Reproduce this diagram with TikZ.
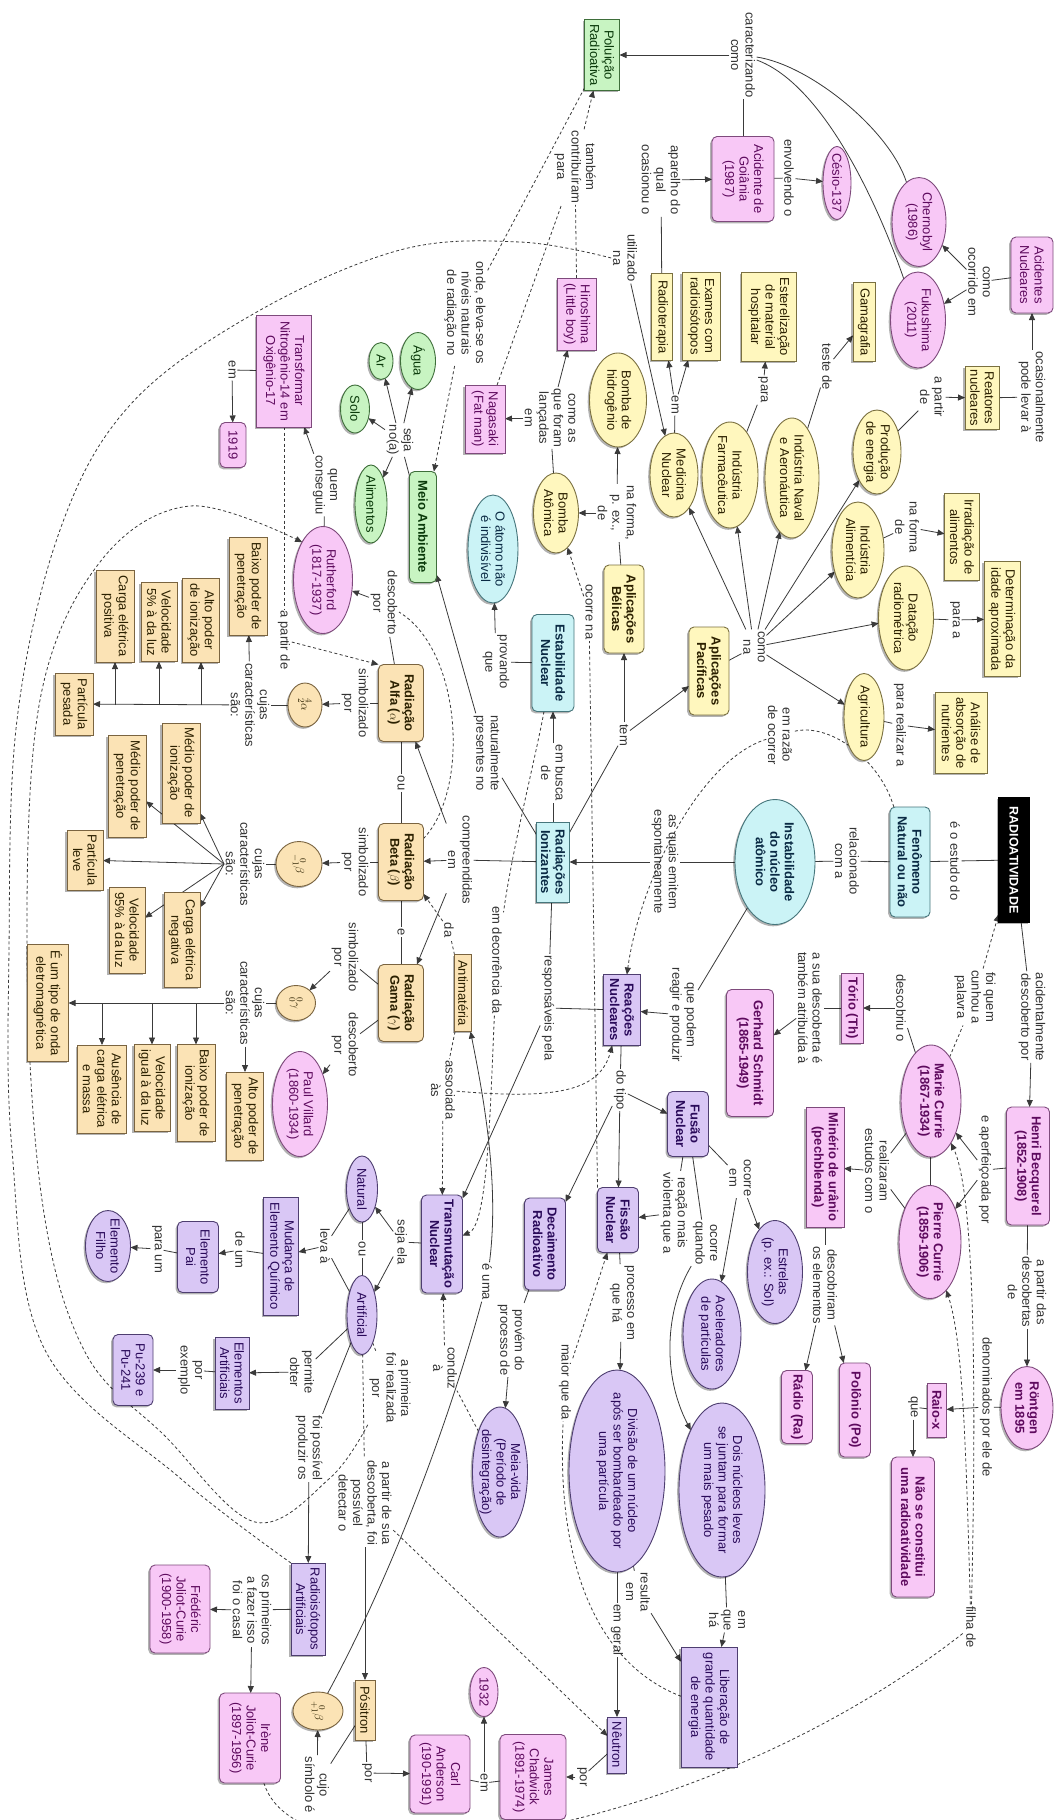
\documentclass[tikz,border=0pt]{standalone}
\usepackage{fontspec}
\setmainfont{Liberation Sans}
\usetikzlibrary{shapes.geometric,arrows.meta,backgrounds,shadows}

\definecolor{pinkF}{HTML}{F8C8F6}\definecolor{pinkD}{HTML}{7E4A7C}\definecolor{pinkT}{HTML}{5E0A5E}
\definecolor{yelF}{HTML}{FFF7BE}\definecolor{yelD}{HTML}{7A7040}
\definecolor{tanF}{HTML}{FBE3B5}\definecolor{tanD}{HTML}{7A6440}\definecolor{darkT}{HTML}{2B2000}
\definecolor{grnF}{HTML}{C8F4C2}\definecolor{grnD}{HTML}{3E6E3A}\definecolor{grnT}{HTML}{0A3A0A}
\definecolor{cyaF}{HTML}{CBF3F6}\definecolor{cyaD}{HTML}{46767C}\definecolor{cyaT}{HTML}{0A2A44}
\definecolor{purF}{HTML}{D9C7F5}\definecolor{purD}{HTML}{4E3E70}\definecolor{purT}{HTML}{2A0A5A}
\definecolor{labT}{HTML}{333333}\definecolor{lineC}{HTML}{3A3A3A}

\newcommand\nfs{\fontsize{13}{14.5}\selectfont}
\newcommand\bnf{\fontsize{13}{14.5}\selectfont\bfseries}

\tikzset{
  shp/.style={inner sep=0pt,outer sep=0pt,line width=0.9pt,
    drop shadow={shadow xshift=-1.8pt,shadow yshift=-1.8pt,fill=black,opacity=0.3}},
  pR/.style={shp,rectangle,rounded corners=5pt,fill=pinkF,draw=pinkD},
  pS/.style={shp,rectangle,fill=pinkF,draw=pinkD},
  pE/.style={shp,ellipse,fill=pinkF,draw=pinkD},
  yR/.style={shp,rectangle,rounded corners=5pt,fill=yelF,draw=yelD},
  yS/.style={shp,rectangle,fill=yelF,draw=yelD},
  yE/.style={shp,ellipse,fill=yelF,draw=yelD},
  tR/.style={shp,rectangle,rounded corners=5pt,fill=tanF,draw=tanD},
  tS/.style={shp,rectangle,fill=tanF,draw=tanD},
  tE/.style={shp,ellipse,fill=tanF,draw=tanD},
  gR/.style={shp,rectangle,rounded corners=5pt,fill=grnF,draw=grnD},
  gS/.style={shp,rectangle,fill=grnF,draw=grnD},
  gE/.style={shp,ellipse,fill=grnF,draw=grnD},
  cR/.style={shp,rectangle,rounded corners=5pt,fill=cyaF,draw=cyaD},
  cS/.style={shp,rectangle,fill=cyaF,draw=cyaD},
  cE/.style={shp,ellipse,fill=cyaF,draw=cyaD},
  uR/.style={shp,rectangle,rounded corners=5pt,fill=purF,draw=purD},
  uS/.style={shp,rectangle,fill=purF,draw=purD},
  uE/.style={shp,ellipse,fill=purF,draw=purD},
  kS/.style={shp,rectangle,fill=black,draw=black},
  ntxt/.style={rotate=-90,align=center,font=\nfs,inner sep=0pt},
  lab/.style={rotate=-90,align=center,font=\nfs,text=labT,inner sep=1.5pt},
  cn/.style={draw=lineC,line width=0.8pt},
  ca/.style={cn,-{Triangle[length=7pt,width=6pt]}},
  cd/.style={cn,dash pattern=on 3pt off 2.5pt},
  cda/.style={cd,-{Triangle[length=7pt,width=6pt]}},
}

% #1 text options, #2 shape style, #3 text colour, #4 name, #5 centre,
% #6 vertical extent, #7 horizontal extent, #8 text (set top-to-bottom)
\newcommand\cmapnode[8][]{%
  \node[#2,minimum width=#7,minimum height=#6] (#4) at (#5) {};
  \node[ntxt,text=#3,#1] at (#4) {#8};}

\begin{document}
\begin{tikzpicture}[x=1pt,y=-1pt]
\useasboundingbox (0,0) rectangle (1057,1820);

% ---------- concepts ----------
\cmapnode{gS}{grnT}{polu}{602,55}{71}{35}{Poluição\\Radioativa}
\cmapnode{pR}{pinkT}{goiania}{743,179}{85}{62}{Acidente de\\Goiânia\\(1987)}
\cmapnode{pE}{pinkT}{cesio}{837,183}{73}{28}{Césio-137}
\cmapnode{pE}{pinkT}{chern}{919,222}{89}{54}{Chernobyl\\(1986)}
\cmapnode{pE}{pinkT}{fuku}{918,320}{96}{55}{Fukushima\\(2011)}
\cmapnode{pR}{pinkT}{acid}{1032,275}{76}{42}{Acidentes\\Nucleares}
\cmapnode{yS}{darkT}{reat}{982,398}{63}{34}{Reatores\\nucleares}
\cmapnode{yE}{darkT}{prod}{877,452}{84}{48}{Produção\\de energia}
\cmapnode{yS}{darkT}{gamagraf}{864,322}{79}{22}{Gamagrafia}
\cmapnode{yE}{darkT}{naval}{792,478}{120}{54}{Indústria Naval\\e Aeronáutica}
\cmapnode{yS}{darkT}{ester}{769,317}{89}{55}{Esterelização\\de material\\hospitalar}
\cmapnode{yE}{darkT}{farm}{730,475}{106}{56}{Indústria\\Farmacêutica}
\cmapnode{yS}{darkT}{exames}{701,316}{88}{38}{Exames com\\radioisótopos}
\cmapnode{yS}{darkT}{radiot}{662,317}{87}{21}{Radioterapia}
\cmapnode{yE}{darkT}{medic}{674,475}{84}{48}{Medicina\\Nuclear}
\cmapnode{pS}{pinkT}{hiro}{577,314}{72}{39}{Hiroshima\\(Little boy)}
\cmapnode{pS}{pinkT}{naga}{485,419}{68}{40}{Nagasaki\\(Fat man)}
\cmapnode{yE}{darkT}{hidro}{618,400}{94}{57}{Bomba de\\hidrogênio}
\cmapnode{yE}{darkT}{bomba}{556,513}{80}{45}{Bomba\\Atômica}
\cmapnode[font=\bnf]{yR}{darkT}{belicas}{624,609}{88}{40}{Aplicações\\Bélicas}
\cmapnode[font=\bnf]{yR}{darkT}{pacif}{709,671}{88}{40}{Aplicações\\Pacíficas}
\cmapnode{yE}{darkT}{alim}{858,550}{96}{52}{Indústria\\Alimentícia}
\cmapnode{yS}{darkT}{irrad}{962,537}{87}{35}{Irradiação de\\alimentos}
\cmapnode{yE}{darkT}{datac}{906,618}{104}{55}{Datação\\radiométrica}
\cmapnode{yS}{darkT}{determ}{1002,619}{115}{36}{Determinação da\\idade aproximada}
\cmapnode{yE}{darkT}{agri}{864,717}{87}{40}{Agricultura}
\cmapnode{yS}{darkT}{analise}{961,733}{81}{52}{Análise de\\absorção de\\nutrientes}
\cmapnode[font=\fontsize{12.5}{14}\selectfont\bfseries]{kS}{white}{radio}{1014,860}{125}{31}{RADIOATIVIDADE}
\cmapnode[font=\bnf]{cR}{cyaT}{fenom}{910,862}{110}{40}{Fenômeno\\Natural ou não}
\cmapnode[font=\bnf]{cE}{cyaT}{instab}{775,862}{125}{80}{Instabilidade\\do núcleo\\atômico}
\cmapnode[font=\bnf]{cS}{cyaT}{ioniz}{553,862}{80}{33}{Radiações\\Ionizantes}
\cmapnode[font=\bnf]{cR}{cyaT}{estab}{553,663}{97}{42}{Estabilidade\\Nuclear}
\cmapnode{cE}{cyaT}{atomo}{493,549}{108}{50}{O átomo não\\é indivisível}
\cmapnode[font=\bnf]{gR}{grnT}{meio}{423,527}{111}{27}{Meio Ambiente}
\cmapnode{gE}{grnT}{agua}{418,361}{57}{35}{Água}
\cmapnode{gE}{grnT}{ar}{381,361}{37}{24}{Ar}
\cmapnode{gE}{grnT}{solo}{355,409}{48}{29}{Solo}
\cmapnode{gE}{grnT}{alimentos}{371,504}{78}{32}{Alimentos}
\cmapnode{pS}{pinkT}{transf}{284,371}{112}{55}{Transformar\\Nitrogênio-14 em\\Oxigênio-17}
\cmapnode{pR}{pinkT}{y1919}{233,445}{45}{26}{1919}
\cmapnode{pE}{pinkT}{ruth}{323,580}{107}{59}{Rutherford\\(1817-1937)}
\cmapnode[font=\bnf]{tR}{darkT}{alfa}{401,703}{77}{45}{Radiação\\Alfa ($\alpha$)}
\cmapnode{tE}{darkT}{alfasym}{305,705}{44}{34}{$^{4}_{2}\alpha$}
\cmapnode{tS}{darkT}{baixopen}{248,586}{98}{38}{Baixo poder de\\penetração}
\cmapnode{tS}{darkT}{altoion}{201,620}{84}{37}{Alto poder\\de ionização}
\cmapnode{tS}{darkT}{vel5}{159,622}{79}{36}{Velocidade\\5\% à da luz}
\cmapnode{tS}{darkT}{cargapos}{115,616}{92}{38}{Carga elétrica\\positiva}
\cmapnode{tS}{darkT}{pesada}{74,704}{62}{38}{Partícula\\pesada}
\cmapnode[font=\bnf]{tR}{darkT}{beta}{401,862}{77}{45}{Radiação\\Beta ($\beta$)}
\cmapnode{tE}{darkT}{betasym}{299,864}{45}{46}{$^{\;\,0}_{-1}\beta$}
\cmapnode{tS}{darkT}{medioion}{181,773}{100}{38}{Médio poder de\\ionização}
\cmapnode{tS}{darkT}{mediopen}{127,786}{102}{38}{Médio poder de\\penetração}
\cmapnode{tS}{darkT}{leve}{85,860}{60}{36}{Partícula\\leve}
\cmapnode{tS}{darkT}{vel95}{127,930}{86}{36}{Velocidade\\95\% à da luz}
\cmapnode{tS}{darkT}{cargneg}{182,940}{95}{36}{Carga elétrica\\negativa}
\cmapnode[font=\bnf]{tR}{darkT}{gama}{401,1003}{77}{45}{Radiação\\Gama ($\gamma$)}
\cmapnode{tE}{darkT}{gamasym}{296,1003}{35}{39}{$^{0}_{0}\gamma$}
\cmapnode{pE}{pinkT}{villard}{300,1104}{105}{55}{Paul Villard\\(1860-1934)}
\cmapnode{tS}{darkT}{altopen}{245,1116}{88}{37}{Alto poder de\\penetração}
\cmapnode{tS}{darkT}{baixoion}{196,1093}{97}{38}{Baixo poder de\\ionização}
\cmapnode{tS}{darkT}{velluz}{152,1088}{87}{36}{Velocidade\\igual à da luz}
\cmapnode{tS}{darkT}{ausencia}{102,1089}{88}{49}{Ausência de\\carga elétrica\\e massa}
\cmapnode{tS}{darkT}{onda}{48,1003}{117}{41}{É um tipo de onda\\eletromagnética}
\cmapnode{tS}{darkT}{antimat}{463,993}{77}{17}{Antimatéria}
\cmapnode[font=\bnf]{uS}{purT}{reac}{622,1010}{71}{37}{Reações\\Nucleares}
\cmapnode[font=\bnf]{uR}{purT}{fusao}{688,1124}{65}{41}{Fusão\\Nuclear}
\cmapnode[font=\bnf]{uR}{purT}{fissao}{618,1220}{65}{41}{Fissão\\Nuclear}
\cmapnode[font=\bnf]{uR}{purT}{decai}{545,1244}{92}{41}{Decaimento\\Radioativo}
\cmapnode{uE}{purT}{estrelas}{775,1272}{103}{55}{Estrelas\\(p. ex.: Sol)}
\cmapnode{uE}{purT}{acel}{712,1334}{110}{58}{Aceleradores\\de partículas}
\cmapnode{uE}{purT}{dois}{722,1490}{174}{86}{Dois núcleos leves\\se juntam para formar\\um mais pesado}
\cmapnode{uE}{purT}{divisao}{617,1471}{202}{96}{Divisão de um núcleo\\após ser bombardeado por\\uma partícula}
\cmapnode{uS}{purT}{liber}{709,1707}{120}{56}{Liberação de\\grande quantidade\\de energia}
\cmapnode{uS}{purT}{neutron}{617,1745}{56}{19}{Nêutron}
\cmapnode{pR}{pinkT}{chadwick}{533,1777}{85}{66}{James\\Chadwick\\(1891-1974)}
\cmapnode{pE}{pinkT}{y1932}{484,1692}{49}{28}{1932}
\cmapnode{pR}{pinkT}{carl}{440,1774}{78}{60}{Carl\\Anderson\\(190-1991)}
\cmapnode{tS}{darkT}{positron}{365,1710}{60}{20}{Pósitron}
\cmapnode{tE}{darkT}{betaplus}{318,1711}{38}{50}{$^{\;\,0}_{+1}\beta$}
\cmapnode{uS}{purT}{radart}{308,1609}{92}{34}{Radioisótopos\\Artificiais}
\cmapnode{pR}{pinkT}{fred}{180,1609}{88}{60}{Frédéric\\Joliot-Curie\\(1900-1958)}
\cmapnode{pR}{pinkT}{irene}{250,1738}{90}{61}{Irène\\Joliot-Curie\\(1897-1956)}
\cmapnode{uS}{purT}{elemart}{232,1373}{72}{34}{Elementos\\Artificiais}
\cmapnode{uR}{purT}{pu}{133,1370}{71}{40}{Pu-239 e\\Pu-241}
\cmapnode{uE}{purT}{artif}{362,1315}{79}{30}{Artificial}
\cmapnode{uE}{purT}{natur}{362,1189}{66}{31}{Natural}
\cmapnode{uS}{purT}{mudanca}{281,1256}{118}{35}{Mudança de\\Elemento Químico}
\cmapnode{uR}{purT}{pai}{198,1257}{71}{41}{Elemento\\Pai}
\cmapnode{uE}{purT}{filho}{108,1246}{71}{45}{Elemento\\Filho}
\cmapnode[font=\bnf]{uR}{purT}{transm}{442,1244}{98}{41}{Transmutação\\Nuclear}
\cmapnode{uE}{purT}{meiavida}{500,1472}{130}{55}{Meia-vida\\(Período de\\desintegração)}
\cmapnode[font=\bnf]{pR}{pinkT}{henri}{1028,1166}{118}{43}{Henri Becquerel\\(1852-1908)}
\cmapnode[font=\bnf]{pE}{pinkT}{rontgen}{1027,1408}{83}{52}{Röntgen\\em 1895}
\cmapnode[font=\bnf]{pS}{pinkT}{raiox}{937,1410}{54}{19}{Raio-x}
\cmapnode[font=\bnf]{pR}{pinkT}{naose}{913,1527}{140}{43}{Não se constitui\\uma radioatividade}
\cmapnode[font=\bnf]{pE}{pinkT}{marie}{931,1101}{112}{60}{Marie Currie\\(1867-1934)}
\cmapnode[font=\bnf]{pE}{pinkT}{pierre}{930,1242}{113}{62}{Pierre Currie\\(1859-1906)}
\cmapnode[font=\bnf]{pS}{pinkT}{torio}{852,1008}{70}{22}{Tório (Th)}
\cmapnode[font=\bnf]{pR}{pinkT}{gerhard}{750,1053}{127}{47}{Gerhard Schmidt\\(1865-1949)}
\cmapnode[font=\bnf]{pS}{pinkT}{minerio}{825,1167}{120}{38}{Minério de urânio\\(pechblenda)}
\cmapnode[font=\bnf]{pR}{pinkT}{polonio}{855,1410}{94}{31}{Polônio (Po)}
\cmapnode[font=\bnf]{pR}{pinkT}{radium}{797,1407}{73}{31}{Rádio (Ra)}

% ---------- linking phrases ----------
\node[lab] (lcarac) at (743,55) {caracterizando\\como};
\node[lab] (lenvol) at (789,178) {envolvendo o};
\node[lab] (lcomo) at (979,282) {como\\ocorrido em};
\node[lab] (locas) at (1032,397) {ocasionalmente\\pode levar à};
\node[lab] (lapartir1) at (932,397) {a partir\\de};
\node[lab] (lteste) at (827,367) {teste de};
\node[lab] (lpara) at (763,390) {para};
\node[lab] (lem1) at (675,405) {em};
\node[lab] (laparelho) at (661,180) {aparelho do\\qual\\ocasionou o};
\node[lab] (lutil) at (625,258) {utilizado\\na};
\node[lab] (ltambem) at (575,167) {também\\contribuíram\\para};
\node[lab] (londe) at (465,313) {onde, eleva-se os\\níveis naturais\\de radiação no};
\node[lab] (lcomoas) at (550,418) {como as\\que foram\\lançadas\\em};
\node[lab] (lnaforma) at (617,513) {na forma,\\p. ex.,\\de};
\node[lab] (locorrena) at (589,612) {ocorre na};
\node[lab] (lcomona) at (754,647) {como\\na};
\node[lab] (lnaforma2) at (907,527) {na forma\\de};
\node[lab] (lparaa) at (955,620) {para a};
\node[lab] (lrealizar) at (900,725) {para realizar a};
\node[lab] (lrazao) at (780,735) {em razão\\de ocorrer};
\node[lab] (lestudo) at (955,861) {é o estudo do};
\node[lab] (lrelac) at (847,861) {relacionado\\com a};
\node[lab] (lemitem) at (665,862) {as quais emitem\\espontaneamente};
\node[lab] (ltem) at (624,735) {tem};
\node[lab] (lbusca) at (553,773) {em busca\\de};
\node[lab] (lprov) at (496,662) {provando\\que};
\node[lab] (lnatur) at (487,753) {naturalmente\\presentes no};
\node[lab] (lseja) at (400,440) {seja\\no(a)};
\node[lab] (lem2) at (232,370) {em};
\node[lab] (lquem) at (325,485) {quem\\conseguiu};
\node[lab] (ldesc) at (384,603) {descoberto\\por};
\node[lab] (lsimb1) at (355,703) {simbolizado\\por};
\node[lab] (lcar1) at (250,705) {cujas\\características\\são:};
\node[lab] (lpartir2) at (284,640) {a partir de};
\node[lab] (lou1) at (401,783) {ou};
\node[lab] (lcompr) at (460,860) {compreendidas\\em};
\node[lab] (lsimb2) at (355,862) {simbolizado\\por};
\node[lab] (lcar2) at (245,864) {cujas\\características\\são:};
\node[lab] (le) at (401,932) {e};
\node[lab] (lsimb3) at (345,957) {simbolizado\\por};
\node[lab] (ldesc3) at (345,1045) {descoberto\\por};
\node[lab] (lcar3) at (245,1003) {cujas\\características\\são:};
\node[lab] (lda) at (449,930) {da};
\node[lab] (ldecor) at (497,960) {em decorrência da};
\node[lab] (lresp) at (548,1008) {responsáveis pela};
\node[lab] (lpodem) at (683,1015) {que podem\\reagir e produzir};
\node[lab] (ldotipo) at (620,1090) {do tipo};
\node[lab] (lviol) at (674,1213) {reação mais\\violenta que a};
\node[lab] (locorreem) at (740,1178) {ocorre\\em};
\node[lab] (lquando) at (705,1243) {ocorre\\quando};
\node[lab] (lprocesso) at (622,1303) {processo em\\que há};
\node[lab] (lmaior) at (565,1382) {maior que da};
\node[lab] (lemque) at (727,1620) {em\\que\\há};
\node[lab] (lresulta) at (638,1592) {resulta\\em};
\node[lab] (lgeral) at (617,1630) {em geral};
\node[lab] (lpor1) at (582,1777) {por};
\node[lab] (lem3) at (484,1783) {em};
\node[lab] (lpor2) at (367,1773) {por};
\node[lab] (ldescob) at (365,1503) {a partir de sua\\descoberta, foi\\possível\\detectar o};
\node[lab] (lsimbolo) at (317,1785) {cujo\\símbolo é};
\node[lab] (lproduzir) at (309,1448) {foi possível\\produzir os};
\node[lab] (lcasal) at (252,1610) {os primeiros\\a fazer isso\\foi o casal};
\node[lab] (lobter) at (302,1372) {permite\\obter};
\node[lab] (lexemplo) at (190,1370) {por\\exemplo};
\node[lab] (lou2) at (362,1249) {ou};
\node[lab] (lsejaela) at (401,1242) {seja ela};
\node[lab] (lleva) at (325,1246) {leva à};
\node[lab] (ldeum) at (240,1250) {de um};
\node[lab] (lparaum) at (157,1249) {para um};
\node[lab] (lprovem) at (511,1340) {provém do\\processo de};
\node[lab] (leuma) at (487,1282) {é uma};
\node[lab] (lconduz) at (445,1368) {conduz\\à};
\node[lab] (lassoc) at (443,1090) {associada\\às};
\node[lab] (lprimeira) at (390,1388) {a primeira\\foi realizada\\por};
\node[lab] (lacid) at (1032,1017) {acidentalmente\\descoberto por};
\node[lab] (lpartirdas) at (1027,1292) {a partir das\\descobertas\\de};
\node[lab] (ldenom) at (986,1407) {denominados por ele de};
\node[lab] (lque) at (913,1407) {que};
\node[lab] (laperf) at (985,1170) {e aperfeiçoada por};
\node[lab] (lcunhou) at (975,997) {foi quem\\cunhou a\\palavra};
\node[lab] (ldescobriu) at (901,1008) {descobriu o};
\node[lab] (latrib) at (810,1008) {a sua descoberta é\\também atribuída à};
\node[lab] (lestudos) at (877,1171) {realizaram\\estudos com o};
\node[lab] (ldescobriram) at (825,1285) {descobriram\\os elementos};
\node[lab] (lfilha) at (971,1627) {filha de};

% ---------- connectors ----------
\begin{scope}[on background layer]
\fill[white] (0,0) rectangle (1057,1820);

% accidents and pollution
\draw[cn] (goiania) -- (lcarac);
\draw[cn] (chern) .. controls (890,130) and (810,65) .. (lcarac);
\draw[cn] (fuku) .. controls (880,210) and (825,85) .. (lcarac);
\draw[ca] (lcarac) -- (polu);
\draw[cn] (goiania) -- (lenvol); \draw[ca] (lenvol) -- (cesio);
\draw[cn] (acid) -- (lcomo); \draw[ca] (lcomo) -- (chern); \draw[ca] (lcomo) -- (fuku);
\draw[cn] (reat) -- (locas); \draw[ca] (locas) -- (acid);
\draw[cn] (prod) -- (lapartir1); \draw[ca] (lapartir1) -- (reat);
\draw[cn] (naval) -- (lteste); \draw[ca] (lteste) -- (gamagraf);
\draw[cn] (farm) -- (lpara); \draw[ca] (lpara) -- (ester);
\draw[cn] (medic) -- (lem1); \draw[ca] (lem1) -- (radiot); \draw[ca] (lem1) -- (exames);
\draw[cn] (radiot) -- (laparelho); \draw[ca] (laparelho) -- (goiania);
\draw[ca] (lutil) -- (medic);
\draw[cd] (hiro) -- (ltambem); \draw[cd] (naga) -- (ltambem); \draw[cda] (ltambem) -- (polu);
\draw[cd] (polu) -- (londe); \draw[cda] (londe) -- (meio);

% weapons and peaceful uses
\draw[cn] (bomba) -- (lcomoas); \draw[ca] (lcomoas) -- (hiro); \draw[ca] (lcomoas) -- (naga);
\draw[cn] (belicas) -- (lnaforma); \draw[ca] (lnaforma) -- (bomba); \draw[ca] (lnaforma) -- (hidro);
\draw[cn] (ioniz) -- (ltem); \draw[ca] (ltem) -- (belicas); \draw[ca] (ltem) -- (pacif);
\draw[cn] (pacif) -- (lcomona);
\foreach \t in {medic,farm,naval,prod,alim,datac,agri} \draw[ca] (lcomona) -- (\t);
\draw[cn] (alim) -- (lnaforma2); \draw[ca] (lnaforma2) -- (irrad);
\draw[cn] (datac) -- (lparaa); \draw[ca] (lparaa) -- (determ);
\draw[cn] (agri) -- (lrealizar); \draw[ca] (lrealizar) -- (analise);
\draw[cd] (fissao.north west) -- (locorrena); \draw[cda] (locorrena) -- (bomba);

% main axis
\draw[cn] (radio) -- (lestudo) -- (fenom);
\draw[cn] (fenom) -- (lrelac) -- (instab);
\draw[cn] (instab) -- (lemitem); \draw[ca] (lemitem) -- (ioniz);
\draw[cn] (ioniz) -- (lbusca); \draw[ca] (lbusca) -- (estab);
\draw[cn] (estab) -- (lprov); \draw[ca] (lprov) -- (atomo);
\draw[cn] (ioniz) -- (lnatur); \draw[ca] (lnatur) -- (meio);
\draw[cn] (meio) -- (lseja);
\foreach \t in {agua,ar,solo,alimentos} \draw[ca] (lseja) -- (\t);
\draw[cd] (fenom) .. controls (880,760) and (830,722) .. (lrazao);
\draw[cda] (lrazao) .. controls (700,760) and (640,880) .. (reac);

% radiations
\draw[cn] (ioniz) -- (lcompr);
\draw[ca] (lcompr) -- (alfa); \draw[ca] (lcompr) -- (beta); \draw[ca] (lcompr) -- (gama);
\draw[cn] (alfa) -- (lou1) -- (beta);
\draw[cn] (beta) -- (le) -- (gama);
\draw[cn] (alfa) -- (ldesc); \draw[ca] (ldesc) -- (ruth);
\draw[cd] (beta) .. controls (470,790) and (462,650) .. (ldesc);
\draw[cn] (ruth) -- (lquem); \draw[ca] (lquem) -- (transf);
\draw[cn] (transf) -- (lem2); \draw[ca] (lem2) -- (y1919);
\draw[cd] (transf) -- (lpartir2); \draw[cda] (lpartir2) -- (alfa.north west);

\draw[cn] (alfa) -- (lsimb1); \draw[ca] (lsimb1) -- (alfasym);
\draw[cn] (alfasym) -- (lcar1);
\draw[ca] (lcar1) -- (pesada);
\draw[ca] (lcar1) -- (baixopen);
\foreach \t in {altoion,vel5,cargapos} \draw[ca] (\t |- lcar1) -- (\t);

\draw[cn] (beta) -- (lsimb2); \draw[ca] (lsimb2) -- (betasym);
\draw[cn] (betasym) -- (lcar2);
\foreach \t in {medioion,mediopen,leve,vel95,cargneg} \draw[ca] (lcar2.south) -- (\t);

\draw[cn] (gama) -- (lsimb3); \draw[ca] (lsimb3) -- (gamasym);
\draw[cn] (gama) -- (ldesc3); \draw[ca] (ldesc3) -- (villard);
\draw[cn] (gamasym) -- (lcar3);
\draw[ca] (lcar3) -- (onda);
\draw[ca] (lcar3) -- (altopen);
\foreach \t in {baixoion,velluz,ausencia} \draw[ca] (\t |- lcar3) -- (\t);

% antimatter and transmutation
\draw[cd] (antimat) -- (lda); \draw[cda] (lda) -- (beta);
\draw[cd] (antimat) -- (lassoc); \draw[cda] (lassoc) -- (transm);
\draw[cda] (lassoc) .. controls (560,1100) and (600,1090) .. (reac);
\draw[cd] (estab) .. controls (535,760) and (512,850) .. (ldecor);
\draw[cda] (ldecor) .. controls (490,1110) and (488,1225) .. (transm);
\draw[cn] (betaplus) .. controls (400,1560) and (455,1400) .. (leuma);
\draw[ca] (leuma) .. controls (500,1180) and (482,1090) .. (antimat);

% nuclear reactions
\draw[cn] (instab) -- (lpodem); \draw[ca] (lpodem) -- (reac);
\draw[cn] (ioniz) -- (lresp); \draw[cn] (reac) -- (lresp); \draw[ca] (lresp) -- (transm);
\draw[cn] (reac) -- (ldotipo);
\draw[ca] (ldotipo) -- (fusao); \draw[ca] (ldotipo) -- (fissao); \draw[ca] (ldotipo) -- (decai);
\draw[cn] (fusao) -- (lviol); \draw[ca] (lviol) -- (fissao);
\draw[cn] (fusao) -- (locorreem); \draw[ca] (locorreem) -- (estrelas); \draw[ca] (locorreem) -- (acel);
\draw[cn] (fusao) -- (lquando);
\draw[ca] (lquando) .. controls (665,1310) and (662,1375) .. (dois);
\draw[cn] (fissao) -- (lprocesso); \draw[ca] (lprocesso) -- (divisao);
\draw[cn] (divisao) -- (lresulta); \draw[ca] (lresulta) -- (liber);
\draw[cn] (dois) -- (lemque); \draw[ca] (lemque) -- (liber);
\draw[cn] (divisao) -- (lgeral); \draw[ca] (lgeral) -- (neutron);
\draw[cd] (liber) .. controls (600,1665) and (556,1570) .. (lmaior);
\draw[cda] (lmaior) -- (fissao);
\draw[cn] (neutron) -- (lpor1); \draw[ca] (lpor1) -- (chadwick);
\draw[cn] (chadwick) -- (lem3); \draw[cn] (carl) -- (lem3); \draw[ca] (lem3) -- (y1932);
\draw[cn] (positron) -- (lpor2); \draw[ca] (lpor2) -- (carl);
\draw[cn] (positron) -- (lsimbolo); \draw[ca] (lsimbolo) -- (betaplus);
\draw[cn] (decai) -- (lprovem); \draw[ca] (lprovem) -- (meiavida);
\draw[cd] (meiavida) -- (lconduz); \draw[cda] (lconduz) -- (transm);

% kinds of transmutation
\draw[cn] (transm) -- (lsejaela); \draw[ca] (lsejaela) -- (natur); \draw[ca] (lsejaela) -- (artif);
\draw[cn] (natur) -- (lou2) -- (artif);
\draw[cn] (natur) -- (lleva); \draw[cn] (artif) -- (lleva); \draw[ca] (lleva) -- (mudanca);
\draw[cn] (mudanca) -- (ldeum); \draw[ca] (ldeum) -- (pai);
\draw[cn] (pai) -- (lparaum); \draw[ca] (lparaum) -- (filho);
\draw[cn] (artif) -- (lobter); \draw[ca] (lobter) -- (elemart);
\draw[cn] (elemart) -- (lexemplo); \draw[ca] (lexemplo) -- (pu);
\draw[cn] (artif) -- (lproduzir); \draw[ca] (lproduzir) -- (radart);
\draw[cn] (radart) -- (lcasal); \draw[ca] (lcasal) -- (fred); \draw[ca] (lcasal) -- (irene);
\draw[cd] (artif) -- (lprimeira);
\draw[cd] (artif) -- (ldescob); \draw[ca] (ldescob) -- (positron); \draw[cda] (ldescob) -- (neutron);

% long arcs
\draw[cda] plot[smooth,tension=0.6] coordinates {(lprimeira.south east) (330,1478) (255,1522) (165,1436) (85,1352) (42,1200) (27,950) (40,700) (100,562) (190,506) (ruth.north west)};
\draw[cd] plot[smooth,tension=0.6] coordinates {(radart.north west) (180,1478) (45,1350) (12,1150) (9,950) (17,720) (60,530) (130,405) (255,313) (400,250) (520,242) (lutil.south)};
\draw[cd] (irene) .. controls (300,1900) and (700,1840) .. (lfilha);
\draw[cda] (lfilha) .. controls (975,1450) and (978,1200) .. (marie);
\draw[cda] (lfilha) .. controls (966,1450) and (963,1340) .. (pierre);

% discoverers
\draw[cn] (radio) -- (lacid); \draw[ca] (lacid) -- (henri);
\draw[cn] (henri) -- (laperf); \draw[ca] (laperf) -- (marie); \draw[ca] (laperf) -- (pierre);
\draw[cn] (henri) -- (lpartirdas); \draw[ca] (lpartirdas) -- (rontgen);
\draw[cn] (rontgen) -- (ldenom); \draw[ca] (ldenom) -- (raiox);
\draw[cn] (raiox) -- (lque); \draw[ca] (lque) -- (naose);
\draw[cn] (marie) -- (pierre);
\draw[cd] (marie) -- (lcunhou); \draw[cda] (lcunhou) -- (radio);
\draw[cn] (marie) -- (ldescobriu); \draw[ca] (ldescobriu) -- (torio);
\draw[cn] (torio) -- (latrib); \draw[ca] (latrib) -- (gerhard);
\draw[cn] (marie) -- (lestudos); \draw[cn] (pierre) -- (lestudos); \draw[ca] (lestudos) -- (minerio);
\draw[cn] (minerio) -- (ldescobriram); \draw[ca] (ldescobriram) -- (polonio); \draw[ca] (ldescobriram) -- (radium);
\end{scope}
\end{tikzpicture}
\end{document}
